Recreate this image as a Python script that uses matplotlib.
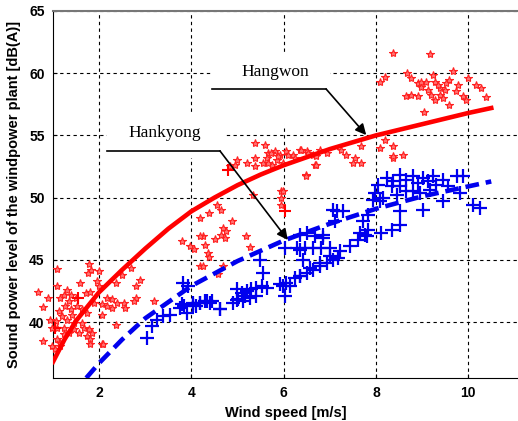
import numpy as np
import matplotlib
matplotlib.use('Agg')
import matplotlib.pyplot as plt
from matplotlib.patches import Rectangle

## measured points, Hangwon (red stars)
hw_x = [1.09, 1.79, 1.83, 1.76, 1.99, 1.96, 1.99, 1.58, 1.71, 1.80, 1.31, 1.24, 1.16, 1.34, 1.27,
        1.38, 1.13, 1.20, 1.31, 1.09, 1.24, 1.45, 1.56, 1.67, 1.78, 1.74, 1.85, 1.81, 2.07, 1.09,
        1.16, 2.68, 2.50, 2.36, 2.88, 2.79, 2.18, 2.28, 2.39, 2.28, 2.54, 2.57, 2.79, 2.75, 3.19,
        2.36, 2.07, 2.07, 1.89, 2.18, 1.42, 1.53, 1.63, 1.49, 1.38, 1.74, 1.63, 1.45, 1.34, 1.24,
        1.16, 1.06, 1.09, 0.68, 0.79, 0.90, 0.79, 0.97, 0.93, 0.97, 1.04, 1.80, 2.08,
        4.55, 4.65, 4.39, 4.19, 4.89, 4.69, 4.76, 4.65, 4.73, 4.51, 4.26, 4.19, 5.18, 4.29, 5.27,
        3.97, 4.06, 4.37, 4.39, 4.19, 4.26, 4.69, 4.58, 3.79, 5.34, 5.95, 5.95, 5.95, 6.48,
        5.38, 5.59, 4.99, 4.84, 4.94, 5.20, 5.38, 5.56, 5.67, 5.81, 5.92, 6.06, 5.63, 5.74, 5.85,
        5.99, 6.21, 6.35, 6.50, 6.64, 6.68, 6.79, 6.93, 5.38,
        5.73, 5.87, 5.66, 6.09, 6.24, 6.38, 6.53, 6.71, 6.71, 7.25, 7.36, 7.54, 7.68, 7.50, 6.49,
        5.98, 8.08, 8.37, 8.37, 8.58, 8.19, 7.68, 8.37,
        8.37, 9.18, 8.68, 8.19, 8.08, 8.76, 8.91, 8.98, 9.09, 9.23, 9.27, 9.38, 9.49, 9.59, 9.67,
        9.77, 9.74, 9.88, 9.99, 10.17, 10.28, 10.39, 8.65, 8.76, 8.91, 9.27, 9.38, 9.59, 9.05, 9.20,
        8.98, 9.13, 9.45, 9.95, 9.34, 9.52]
hw_y = [44.27, 44.70, 44.21, 43.95, 44.08, 43.28, 42.88, 43.14, 42.34, 42.40, 42.61, 42.21, 41.94, 41.67, 41.27,
        41.01, 40.87, 40.47, 40.20, 39.53, 39.53, 39.40, 39.13, 39.53, 39.40, 38.87, 39.13, 38.60, 38.20, 38.60,
        38.33, 44.35, 43.81, 43.14, 43.36, 42.88, 41.94, 41.81, 41.54, 41.14, 41.54, 41.14, 41.94, 41.67, 41.67,
        39.80, 40.60, 41.41, 41.54, 41.27, 40.60, 41.27, 41.01, 41.94, 42.21, 40.74, 39.94, 39.94, 39.13, 39.00,
        38.06, 40.07, 42.88, 42.40, 41.20, 41.90, 38.50, 38.10, 40.20, 39.50, 37.80, 38.20, 38.20,
        49.44, 49.04, 48.77, 48.37, 48.10, 47.56, 47.30, 47.03, 46.76, 46.68, 46.90, 46.90, 46.95, 46.23, 46.04,
        46.09, 45.83, 45.56, 45.24, 44.49, 44.49, 44.49, 43.82, 46.50, 50.24, 50.50, 49.97, 49.44, 51.80,
        54.38, 54.25, 53.05, 52.51, 52.64, 52.78, 53.18, 52.78, 53.58, 53.71, 53.45, 53.71, 53.18, 52.64, 53.05,
        52.78, 53.45, 53.85, 53.71, 53.45, 52.64, 53.85, 53.58, 52.51,
        53.58, 53.31, 52.78, 53.45, 53.18, 53.85, 53.58, 53.31, 52.64, 53.85, 53.45, 53.18, 52.78, 52.78, 51.70,
        50.50, 53.98, 54.12, 53.18, 53.45, 54.65, 54.12, 53.31,
        61.60, 61.55, 60.05, 59.73, 59.33, 59.60, 59.20, 58.93, 59.33, 59.87, 59.33, 58.80, 58.66, 59.46, 60.21,
        59.06, 58.53, 58.13, 59.60, 59.06, 58.80, 58.07, 58.13, 58.26, 58.13, 57.86, 58.26, 57.46, 56.92, 58.26,
        59.33, 58.66, 57.99, 57.86, 59.06, 59.20]

## a few red crosses
hw_plus_x = [4.80, 6.03, 1.55, 1.05]
hw_plus_y = [52.24, 48.90, 41.90, 39.50]

## measured points, Hankyong (blue crosses)
hk_x = [7.07, 7.11, 6.86, 6.68, 6.28, 6.46, 6.64, 6.82, 7.00, 6.03, 6.42, 5.49, 5.56,
        5.92, 6.06, 6.24, 6.35, 6.50, 6.64, 6.79, 6.93, 7.07, 7.18, 6.13, 5.99, 6.03, 4.98, 5.09,
        5.20, 5.30, 5.41, 5.52, 5.63, 5.02, 5.16, 4.91, 4.62, 3.90, 4.04, 4.19, 4.29, 4.40, 3.82,
        3.79, 4.11,
        3.03, 3.14, 3.25, 3.39, 3.53, 3.75, 3.84, 4.04, 4.19, 4.33, 4.44, 4.62, 4.98, 5.12, 5.27,
        5.41, 3.93,
        7.15, 7.29, 7.72, 7.83, 7.94, 8.08, 8.05, 8.23, 8.37, 8.52, 8.66, 8.81, 8.92, 9.02, 9.13,
        9.24, 9.31, 9.46, 9.57, 9.75, 9.89, 9.82, 9.46, 9.02, 8.52, 8.34, 8.45, 8.66, 8.81, 8.95,
        8.16, 7.98, 10.11, 10.25, 8.52, 9.17,
        6.35, 6.57, 6.79, 7.00, 7.22, 7.44, 7.62, 7.76, 7.83, 8.12, 8.34, 8.52, 6.35, 6.86, 7.65,
        7.80, 6.35, 6.50]
hk_y = [49.03, 48.10, 47.03, 46.90, 45.96, 45.96, 45.96, 45.96, 45.96, 45.96, 45.02, 45.02, 43.95,
        43.02, 43.15, 43.55, 43.69, 43.95, 44.22, 44.49, 44.76, 45.02, 45.16, 42.88, 42.88, 42.08, 42.62, 42.35,
        42.48, 42.62, 42.75, 42.88, 42.75, 41.82, 42.08, 41.55, 41.01, 40.75, 41.55, 41.55, 41.68, 41.55, 43.15,
        41.42, 41.28,
        38.73, 39.66, 40.20, 40.47, 40.60, 41.14, 41.27, 41.40, 41.54, 41.67, 41.67, 41.06, 41.80, 41.67, 41.94,
        42.08, 42.93,
        48.90, 48.90, 48.09, 48.63, 49.83, 49.70, 51.03, 51.57, 51.30, 50.90, 51.43, 51.70, 51.17, 51.57, 51.30,
        51.70, 51.03, 51.43, 50.90, 51.70, 51.70, 50.36, 49.70, 49.03, 48.90, 50.90, 50.23, 50.50, 50.50, 50.36,
        49.96, 50.36, 49.43, 49.16, 51.84, 50.63,
        43.68, 44.35, 44.75, 45.28, 45.68, 46.09, 46.62, 47.02, 47.42, 47.16, 47.42, 47.82, 45.82, 46.75, 47.16,
        46.89, 47.02, 47.16]

## fitted curves
fit_hw_x = [1.0, 1.25, 1.5, 2.0, 2.5, 3.0, 3.5, 4.0, 4.5, 5.0, 5.5, 6.0, 7.0, 8.0, 9.0, 10.0, 10.5]
fit_hw_y = [36.8, 38.6, 40.1, 42.4, 44.2, 45.9, 47.5, 48.9, 50.0, 51.0, 51.85, 52.6, 53.9, 55.0, 55.9, 56.8, 57.2]
fit_hk_x = [1.72, 2.0, 2.5, 3.0, 3.5, 4.0, 5.0, 6.0, 7.0, 8.0, 9.0, 10.0, 10.5]
fit_hk_y = [35.5, 36.7, 38.6, 40.3, 41.6, 42.9, 44.9, 46.55, 47.9, 49.1, 50.1, 50.9, 51.3]

xticks = [2, 4, 6, 8, 10]
yticks = [40, 45, 50, 55, 60, 65]

fig = plt.figure(figsize=(5.18, 4.21), dpi=100)
ax = fig.add_axes([53/518, 43/421, 465/518, 367/421])
ax.set_xlim(1.0, 11.08)
ax.set_ylim(35.5, 65)
ax.set_axisbelow(True)
ax.grid(True, color='k', linestyle=(0, (3, 3)), linewidth=0.8)

## white boxes behind the labels (they hide the grid)
ax.add_patch(Rectangle((4.45, 55.68), 2.56, 5.94, facecolor='white', edgecolor='none', zorder=1))
ax.add_patch(Rectangle((2.17, 53.18), 2.54, 3.46, facecolor='white', edgecolor='none', zorder=1))

ax.plot(hw_x, hw_y, '*', color='#ff2020', markerfacecolor='#ff7070', markeredgewidth=0.8,
        markersize=6, linestyle='none', clip_on=False, zorder=3)
ax.plot(hw_plus_x, hw_plus_y, '+', color='red', markersize=9, markeredgewidth=1.5, linestyle='none', zorder=3)
ax.plot(hk_x, hk_y, '+', color='#0000ee', markersize=10, markeredgewidth=1.6, linestyle='none', zorder=3)
ax.plot(fit_hw_x, fit_hw_y, '-', color='red', linewidth=3.3, zorder=4)
ax.plot(fit_hk_x, fit_hk_y, color='#0000ee', linewidth=3.3, dashes=(3, 1.5), zorder=4)

## annotations
ax.text(5.81, 60.1, 'Hangwon', family='Liberation Serif', fontsize=12.5, ha='center', va='center', zorder=5)
ax.plot([4.45, 6.92], [58.73, 58.73], color='k', linewidth=1.2, zorder=5)
ax.annotate('', xy=(7.79, 55.03), xytext=(6.92, 58.73),
            arrowprops=dict(arrowstyle='-|>', color='k', lw=1.2, mutation_scale=16, shrinkA=0, shrinkB=0), zorder=5)
ax.text(3.43, 55.19, 'Hankyong', family='Liberation Serif', fontsize=12.5, ha='center', va='center', zorder=5)
ax.plot([2.17, 4.62], [53.75, 53.75], color='k', linewidth=1.2, zorder=5)
ax.annotate('', xy=(6.09, 46.6), xytext=(4.62, 53.75),
            arrowprops=dict(arrowstyle='-|>', color='k', lw=1.2, mutation_scale=16, shrinkA=0, shrinkB=0), zorder=5)

ax.set_xticks(xticks)
ax.set_yticks(yticks)
ax.tick_params(direction='in', length=3, labelsize=10, pad=6)
for lab in ax.get_xticklabels() + ax.get_yticklabels():
    lab.set_fontweight('bold')
    lab.set_family('Liberation Sans')
ax.spines['right'].set_visible(False)
ax.spines['top'].set_color('#777777')
ax.spines['top'].set_linewidth(1.5)
ax.set_xlabel('Wind speed [m/s]', fontsize=10.5, fontweight='bold', family='Liberation Sans', labelpad=4)
ax.set_ylabel('Sound power level of the windpower plant [dB(A)]', fontsize=10.5, fontweight='bold',
              family='Liberation Sans', labelpad=6)

fig.savefig('out.png', dpi=100)
